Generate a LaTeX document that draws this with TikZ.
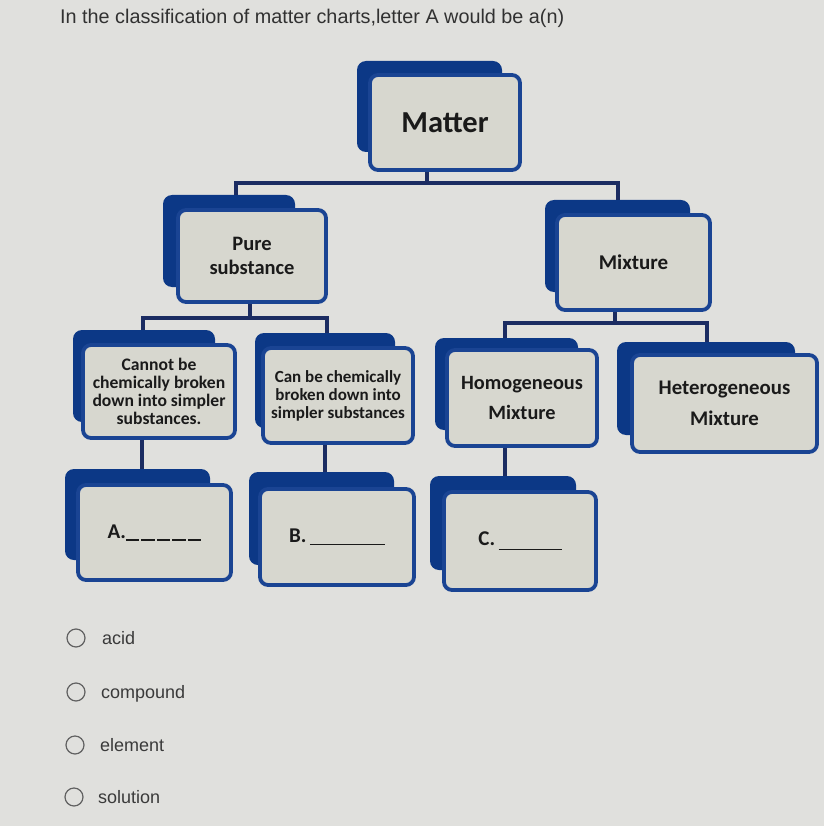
\documentclass[tikz,border=0pt]{standalone}
\usepackage{fontspec}
\setmainfont{Carlito}
\newfontfamily\arialf{Liberation Sans}
\definecolor{bgc}{HTML}{E0E0DD}
\definecolor{backblue}{HTML}{0C3886}
\definecolor{edgeblue}{HTML}{1A4493}
\definecolor{cardfill}{HTML}{D7D7CF}
\definecolor{navy}{HTML}{1B2C62}
\definecolor{inkc}{HTML}{1A1A1A}
\definecolor{optc}{HTML}{3A3A3A}
\tikzset{
  backbox/.style={fill=backblue, draw=none, rounded corners=9pt, inner sep=0pt},
  frontbox/.style={fill=cardfill, draw=edgeblue, line width=3.8pt, rounded corners=8pt,
     inner sep=2pt, align=center, text=inkc, font=\bfseries},
  conn/.style={draw=navy, line width=3.5pt},
  optcircle/.style={circle, draw=optc!80, line width=1.2pt, minimum size=18pt, inner sep=0pt},
  opttext/.style={anchor=base west, font=\arialf\fontsize{18}{20}\selectfont, text=optc, inner sep=0pt},
}
\newcommand{\blankA}{\rule[-2.5pt]{13.5pt}{1.8pt}\hspace{2pt}\rule[-2.5pt]{13.5pt}{1.8pt}\hspace{2pt}\rule[-2.5pt]{13.5pt}{1.8pt}\hspace{2pt}\rule[-2.5pt]{13.5pt}{1.8pt}\hspace{2pt}\rule[-2.5pt]{13.5pt}{1.8pt}}
\begin{document}
\begin{tikzpicture}[x=1pt,y=-1pt]
\fill[bgc] (0,0) rectangle (824,826);
\useasboundingbox (0,0) rectangle (824,826);

\node[anchor=base west, inner sep=0pt, text=inkc!90, font=\arialf\fontsize{19.8}{22}\selectfont] (title) at (60,24)
  {In the classification of matter charts,letter A would be a(n)};

% back boxes
\node[backbox, minimum width=145, minimum height=91] (matter-b) at (429.5,106.5) {};
\node[backbox, minimum width=132, minimum height=92] (pure-b) at (229,241) {};
\node[backbox, minimum width=145, minimum height=92] (mix-b) at (617.5,246) {};
\node[backbox, minimum width=142, minimum height=92] (cannot-b) at (144,376) {};
\node[backbox, minimum width=140, minimum height=95] (canbe-b) at (325,380.5) {};
\node[backbox, minimum width=143, minimum height=92] (homo-b) at (506.5,384) {};
\node[backbox, minimum width=178, minimum height=93] (hetero-b) at (706,388.5) {};
\node[backbox, minimum width=145, minimum height=91] (a-b) at (137.5,514.5) {};
\node[backbox, minimum width=145, minimum height=93] (b-b) at (321.5,518.5) {};
\node[backbox, minimum width=146, minimum height=94] (c-b) at (503,523) {};

% junction coordinates
\coordinate (j0) at (427,183);
\coordinate (jl) at (236,183);
\coordinate (jr) at (618,183);
\coordinate (p0) at (250,318);
\coordinate (pl) at (143,318);
\coordinate (pr) at (327,318);
\coordinate (m0) at (615,323);
\coordinate (ml) at (505,323);
\coordinate (mr) at (707,323);
\coordinate (s1) at (142,0);
\coordinate (s2) at (325,0);
\coordinate (s3) at (505,0);

% front boxes
\node[frontbox, minimum width=150, minimum height=95, font=\bfseries\fontsize{30.5}{32}\selectfont] (matter) at (445,122.5) {Matter};
\node[frontbox, minimum width=148, minimum height=92, font=\bfseries\fontsize{20.5}{24}\selectfont] (pure) at (252,256) {Pure\\substance};
\node[frontbox, minimum width=153, minimum height=95, font=\bfseries\fontsize{21}{24}\selectfont] (mix) at (633.5,262.5) {Mixture};
\node[frontbox, minimum width=152, minimum height=93, font=\bfseries\fontsize{17.6}{18}\selectfont] (cannot) at (159,391.5) {Cannot be\\chemically broken\\down into simpler\\substances.};
\node[frontbox, minimum width=150, minimum height=95, font=\bfseries\fontsize{17}{18}\selectfont] (canbe) at (338,395.5) {Can be chemically\\broken down into\\simpler substances};
\node[frontbox, minimum width=150, minimum height=96, font=\bfseries\fontsize{20.3}{30}\selectfont] (homo) at (522,398) {Homogeneous\\Mixture};
\node[frontbox, minimum width=185, minimum height=97, font=\bfseries\fontsize{20.8}{31}\selectfont] (hetero) at (724.5,403.5) {Heterogeneous\\Mixture};
\node[frontbox, minimum width=153, minimum height=95, font=\bfseries\fontsize{21}{24}\selectfont] (a) at (154.5,532.5) {A.\blankA};
\node[frontbox, minimum width=154, minimum height=96, font=\bfseries\fontsize{21}{24}\selectfont] (b) at (337,537) {B.\,\rule[-3pt]{75pt}{1.8pt}};
\node[frontbox, minimum width=152, minimum height=98, font=\bfseries\fontsize{21}{24}\selectfont] (c) at (520,541) {C.\,\rule[-5pt]{63pt}{1.8pt}};

% connectors
\draw[conn] (matter.south -| j0) -- (j0);
\draw[conn] (pure-b.north -| jl) -- (jl) -- (jr) -- (mix-b.north -| jr);
\draw[conn] (pure.south -| p0) -- (p0);
\draw[conn] (cannot-b.north -| pl) -- (pl) -- (pr) -- (canbe-b.north -| pr);
\draw[conn] (mix.south -| m0) -- (m0);
\draw[conn] (homo-b.north -| ml) -- (ml) -- (mr) -- (hetero-b.north -| mr);
\draw[conn] (cannot.south -| s1) -- (a-b.north -| s1);
\draw[conn] (canbe.south -| s2) -- (b-b.north -| s2);
\draw[conn] (homo.south -| s3) -- (c-b.north -| s3);

% options
\node[optcircle] (o1) at (76,638) {};
\node[optcircle] (o2) at (76,692) {};
\node[optcircle] (o3) at (75,745) {};
\node[optcircle] (o4) at (74,797) {};
\node[opttext] (t1) at (102,644) {acid};
\node[opttext] (t2) at (101,698) {compound};
\node[opttext] (t3) at (100,751) {element};
\node[opttext] (t4) at (98,803) {solution};
\end{tikzpicture}
\end{document}
